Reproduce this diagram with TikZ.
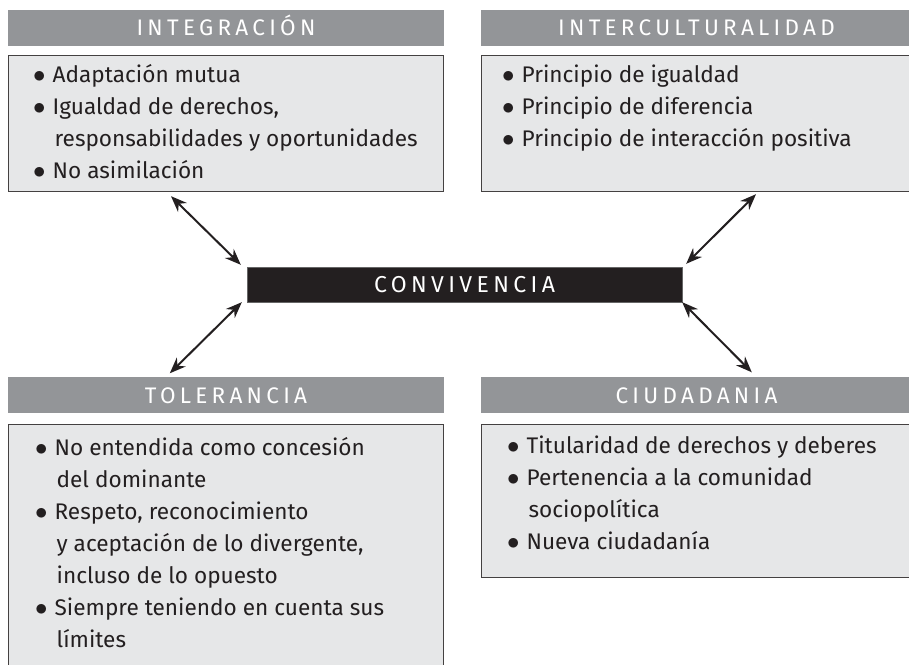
\documentclass[tikz,border=0pt]{standalone}
\usepackage{fontspec}
\setmainfont{Fira Sans}
\newfontfamily\hdfont[LetterSpace=19]{Fira Sans}
\usepackage{xcolor}
\usepackage{tikz}
\usetikzlibrary{arrows.meta, positioning}
\definecolor{hdgray}{HTML}{939598}
\definecolor{boxgray}{HTML}{E6E7E8}
\definecolor{inkblack}{HTML}{231F20}
\newcommand{\bul}{{\fontsize{23}{32}\selectfont$\bullet$}\hspace{7pt}}
\newcommand{\ind}{\hspace*{2pt}\hphantom{\bul}}
\tikzstyle{header} = [rectangle, minimum height=36pt, inner sep=0pt, fill=hdgray, text=white, font=\hdfont\fontsize{22.5}{26}\selectfont, text height=15.5pt, text depth=0pt]
\tikzstyle{panel} = [rectangle, inner sep=0pt, draw=inkblack!85, line width=1pt, fill=boxgray]
\tikzstyle{items} = [anchor=north west, inner sep=0pt, align=left, text=inkblack, font=\fontsize{22.6}{32}\selectfont]
\tikzstyle{core} = [rectangle, minimum width=435pt, minimum height=35pt, inner sep=0pt, fill=inkblack, draw=black!60, text=white, font=\hdfont\fontsize{23}{27}\selectfont, text height=15.8pt, text depth=0pt]
\tikzstyle{arrow} = [line width=2pt, draw=inkblack, {Stealth[length=16pt,width=12.5pt]}-{Stealth[length=16pt,width=12.5pt]}]

\begin{document}
\begin{tikzpicture}[x=1pt, y=1pt]
\useasboundingbox (0,0) rectangle (909,664);
\clip (0,0) rectangle (909,664);

\node (integ) [header, minimum width=436pt] at (226,636) {INTEGRACIÓN};
\node (integbox) [panel, below=9pt of integ, minimum width=435pt, minimum height=136pt] {};
\node (inter) [header, minimum width=431pt] at (696.5,636) {INTERCULTURALIDAD};
\node (interbox) [panel, below=9pt of inter, minimum width=430pt, minimum height=136pt] {};
\node (conv) [core] at (464.5,379.5) {CONVIVENCIA};
\node (toler) [header, minimum width=436pt] at (226,268.5) {TOLERANCIA};
\node (tolerbox) [panel, below=10pt of toler, minimum width=435pt, minimum height=260pt] {};
\node (ciuda) [header, minimum width=431pt] at (696.5,268.5) {CIUDADANIA};
\node (ciudabox) [panel, below=10pt of ciuda, minimum width=430pt, minimum height=153pt] {};

\node (integtext) [items] at ([shift={(25pt,-4.6pt)}]integbox.north west) {\strut\bul Adaptación mutua\\ \bul Igualdad de derechos,\\ \ind responsabilidades y oportunidades\\ \bul No asimilación};
\node (intertext) [items] at ([shift={(21pt,-4.6pt)}]interbox.north west) {\strut\bul Principio de igualdad\\ \bul Principio de diferencia\\ \bul Principio de interacción positiva};
\node (tolertext) [items] at ([shift={(27pt,-9.6pt)}]tolerbox.north west) {\strut\bul No entendida como concesión\\ \ind del dominante\\ \bul Respeto, reconocimiento\\ \ind y aceptación de lo divergente,\\ \ind incluso de lo opuesto\\ \bul Siempre teniendo en cuenta sus\\ \ind límites};
\node (ciudatext) [items] at ([shift={(26pt,-7.6pt)}]ciudabox.north west) {\strut\bul Titularidad de derechos y deberes\\ \bul Pertenencia a la comunidad\\ \ind sociopolítica\\ \bul Nueva ciudadanía};

\draw [arrow] ([shift={(163pt,-4pt)}]integbox.south west) -- ([shift={(-6pt,2pt)}]conv.north west);
\draw [arrow] ([shift={(275pt,-2pt)}]interbox.south west) -- ([shift={(4pt,3pt)}]conv.north east);
\draw [arrow] ([shift={(-5pt,0pt)}]conv.south west) -- ([shift={(162pt,4pt)}]toler.north west);
\draw [arrow] ([shift={(0pt,0pt)}]conv.south east) -- ([shift={(271pt,5pt)}]ciuda.north west);

\end{tikzpicture}
\end{document}
